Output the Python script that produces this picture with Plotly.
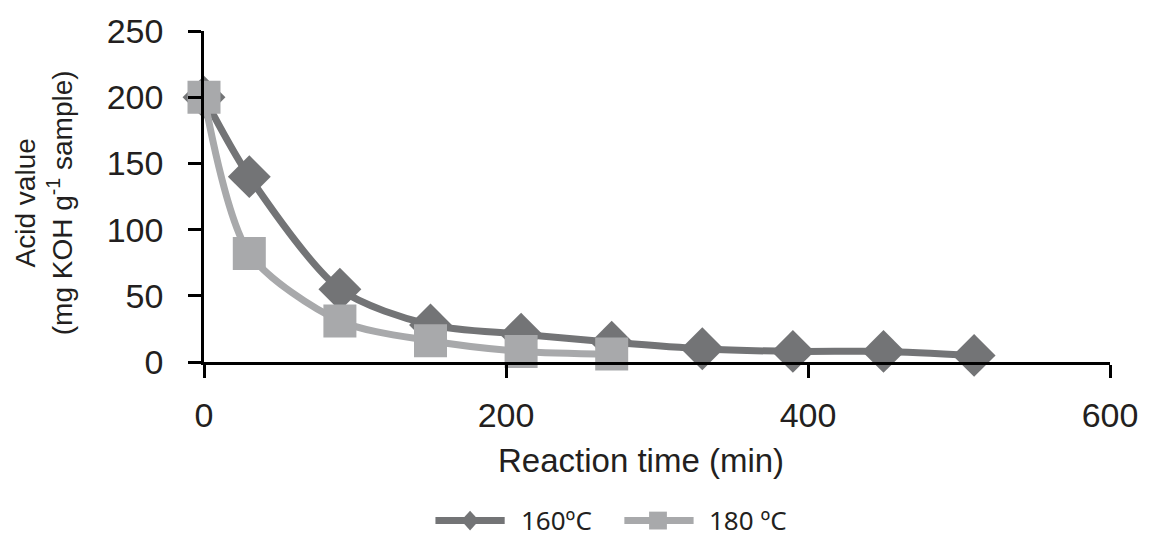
import plotly.graph_objects as go

# Data
time_160 = [0, 30, 90, 150, 210, 270, 330, 390, 450, 510]
acid_160 = [200, 140, 55, 28, 21, 15, 10, 8, 8, 5]
time_180 = [0, 30, 90, 150, 210, 270]
acid_180 = [200, 82, 31, 16, 8, 6]
series_names = ["160ºC", "180 ºC"]
x_ticks = [0, 200, 400, 600]
y_ticks = [0, 50, 100, 150, 200, 250]

DARK = "#737476"
LIGHT = "#A8A9AB"
TXT = "#231F20"

W, H = 1150, 534
L, R, T, B = 204, 30, 28, 172
PW, PH = W - L - R, H - T - B


def px2paper(px, py):
    return (px - L) / PW, (H - B - py) / PH


fig = go.Figure()
fig.add_trace(go.Scatter(
    x=time_160, y=acid_160, mode="lines+markers", name=series_names[0],
    line=dict(color=DARK, width=7, shape="spline", smoothing=0.8),
    marker=dict(symbol="diamond", size=33, color=DARK),
    cliponaxis=False, showlegend=False))
fig.add_trace(go.Scatter(
    x=time_180, y=acid_180, mode="lines+markers", name=series_names[1],
    line=dict(color=LIGHT, width=7, shape="spline", smoothing=0.8),
    marker=dict(symbol="square", size=33, color=LIGHT),
    cliponaxis=False, showlegend=False))

axis_common = dict(
    showline=True, linecolor="black", linewidth=2.5,
    ticks="outside", ticklen=13, tickwidth=2.5, tickcolor="black",
    showgrid=False, zeroline=False,
    tickfont=dict(family="Liberation Sans, Arial", size=34, color=TXT),
)
fig.update_xaxes(range=[0, 600], tickvals=x_ticks, ticklabelstandoff=8, **axis_common)
fig.update_yaxes(range=[0, 250], tickvals=y_ticks, ticklabelstandoff=18, **axis_common)

shapes = []
annotations = []

# x axis title
annotations.append(dict(
    x=px2paper(646, 0)[0], y=px2paper(0, 461)[1], xref="paper", yref="paper",
    text="Reaction time (min)", showarrow=False, xanchor="center", yanchor="middle",
    font=dict(family="Liberation Sans, Arial", size=33, color=TXT)))
# y axis title
annotations.append(dict(
    x=px2paper(42, 0)[0], y=px2paper(0, 201)[1], xref="paper", yref="paper",
    text="Acid value<br>(mg KOH g<sup>-1</sup> sample)", showarrow=False, textangle=-90,
    xanchor="center", yanchor="middle",
    font=dict(family="Liberation Sans, Arial", size=28, color=TXT)))

# legend (drawn manually to match long line samples)
leg_y = 522
legend_items = [
    (438, 508, 473, "diamond", DARK, 522, series_names[0]),
    (629, 699, 663, "square", LIGHT, 713, series_names[1]),
]
for x0, x1, xm, sym, col, xt, label in legend_items:
    a = px2paper(x0, leg_y)
    b = px2paper(x1, leg_y)
    shapes.append(dict(type="line", xref="paper", yref="paper",
                       x0=a[0], y0=a[1], x1=b[0], y1=b[1],
                       line=dict(color=col, width=7)))
    if sym == "diamond":
        pts = [px2paper(xm - 9, leg_y), px2paper(xm, leg_y - 10),
               px2paper(xm + 9, leg_y), px2paper(xm, leg_y + 10)]
    else:
        pts = [px2paper(xm - 9, leg_y - 9), px2paper(xm + 9, leg_y - 9),
               px2paper(xm + 9, leg_y + 9), px2paper(xm - 9, leg_y + 9)]
    path = "M " + " L ".join(f"{p[0]:.5f},{p[1]:.5f}" for p in pts) + " Z"
    shapes.append(dict(type="path", xref="paper", yref="paper", path=path,
                       fillcolor=col, line=dict(width=0)))
    tp = px2paper(xt, leg_y - 1)
    annotations.append(dict(x=tp[0], y=tp[1], xref="paper", yref="paper",
                            text=label, showarrow=False, xanchor="left", yanchor="middle",
                            font=dict(family="Noto Sans", size=26, color=TXT)))

fig.update_layout(
    width=W, height=H,
    margin=dict(l=L, r=R, t=T, b=B, pad=0),
    paper_bgcolor="white", plot_bgcolor="white",
    shapes=shapes, annotations=annotations,
    showlegend=False,
)

fig.write_html("out.html")
